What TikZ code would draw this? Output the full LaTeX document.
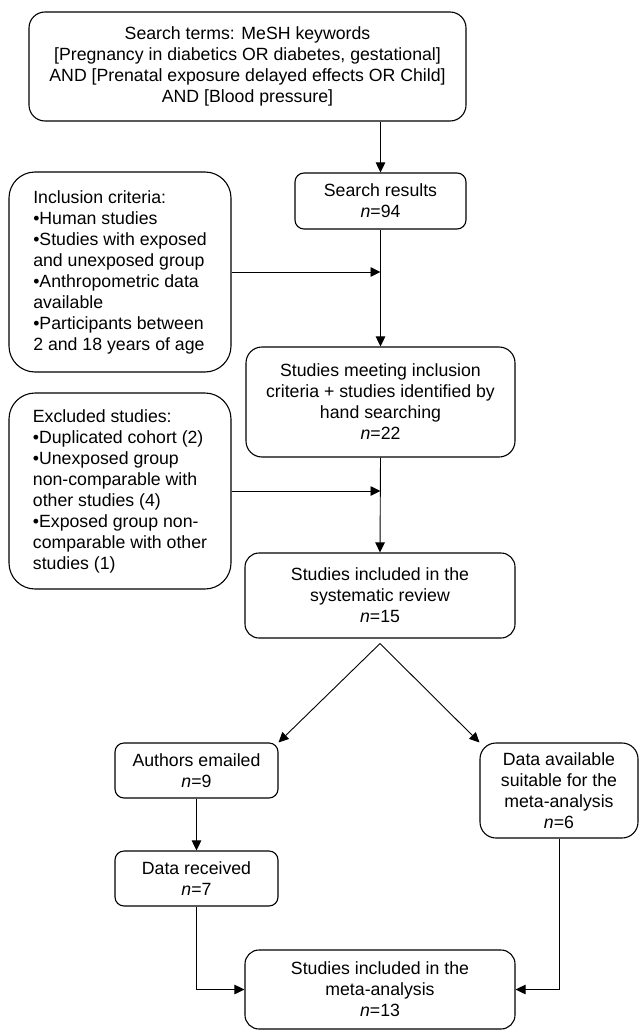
\documentclass[tikz,border=0pt]{standalone}
\usepackage{fontspec}
\setmainfont{Liberation Sans}
\usetikzlibrary{arrows.meta}

\begin{document}
\begin{tikzpicture}[
      x=1pt, y=-1pt,
      box/.style={draw, rounded corners=#1, align=center, inner sep=0pt, line width=1.1pt, font=\fontsize{17.7}{21}\selectfont},
      box/.default=9pt,
      arr/.style={-{Triangle[length=10pt,width=9.5pt]}, line width=0.9pt}
    ]
      \useasboundingbox (0,0) rectangle (639,1030);

      % Search terms
      \node[box=16pt, minimum width=437pt, minimum height=109pt] (terms) at (247.5,66.5) {
        Search terms: MeSH keywords\\
        {[Pregnancy in diabetics OR diabetes, gestational]}\\
        AND [Prenatal exposure delayed effects OR Child]\\
        AND [Blood pressure]
      };

      % Search results
      \node[box, minimum width=171pt, minimum height=56pt] (results) at (380.5,201) {
        Search results\\
        {\itshape n}=94
      };

      % Inclusion criteria
      \node[box=26pt, align=left, minimum width=222pt, minimum height=200pt] (incl) at (120,272) {
        Inclusion criteria:\\
        \textbullet Human studies\\
        \textbullet Studies with exposed\\
        and unexposed group\\
        \textbullet Anthropometric data\\
        available\\
        \textbullet Participants between\\
        2 and 18 years of age
      };

      % Studies meeting inclusion criteria
      \node[box=16pt, minimum width=269pt, minimum height=110pt] (meet) at (380.5,402) {
        Studies meeting inclusion\\
        criteria + studies identified by\\
        hand searching\\
        {\itshape n}=22
      };

      % Excluded studies
      \node[box=26pt, align=left, minimum width=222pt, minimum height=196pt] (excl) at (120,491) {
        Excluded studies:\\
        \textbullet Duplicated cohort (2)\\
        \textbullet Unexposed group\\
        non-comparable with\\
        other studies (4)\\
        \textbullet Exposed group non-\\
        comparable with other\\
        studies (1)
      };

      % Systematic review
      \node[box=14pt, minimum width=270pt, minimum height=85pt] (review) at (380,595.5) {
        Studies included in the\\
        systematic review\\
        {\itshape n}=15
      };

      % Authors emailed / data received
      \node[box, minimum width=163pt, minimum height=55pt] (emailed) at (196.5,770.5) {
        Authors emailed\\
        {\itshape n}=9
      };
      \node[box, minimum width=163pt, minimum height=55pt] (received) at (196.5,878.5) {
        Data received\\
        {\itshape n}=7
      };

      % Data available
      \node[box=16pt, minimum width=158pt, minimum height=95pt] (avail) at (559,790.5) {
        Data available\\
        suitable for the\\
        meta-analysis\\
        {\itshape n}=6
      };

      % Meta-analysis
      \node[box=14pt, minimum width=270pt, minimum height=79pt] (meta) at (380,989.5) {
        Studies included in the\\
        meta-analysis\\
        {\itshape n}=13
      };

      % Connectors
      \draw[arr] (terms.south -| results.north) -- (results.north);
      \draw[arr] (results.south) -- (meet.north);
      \draw[arr] (incl.east) -- (incl.east -| results.south);
      \draw[arr] (meet.south) -- (review.north);
      \draw[arr] (excl.east) -- (excl.east -| meet.south);
      \coordinate (split) at ([yshift=-5pt]review.south);
      \draw[arr] (split) -- (emailed.north east);
      \draw[arr] (split) -- (avail.north west);
      \draw[arr] (emailed.south) -- (received.north);
      \draw[arr] (received.south) |- (meta.west);
      \draw[arr] (avail.south) |- (meta.east);
    \end{tikzpicture}
\end{document}
